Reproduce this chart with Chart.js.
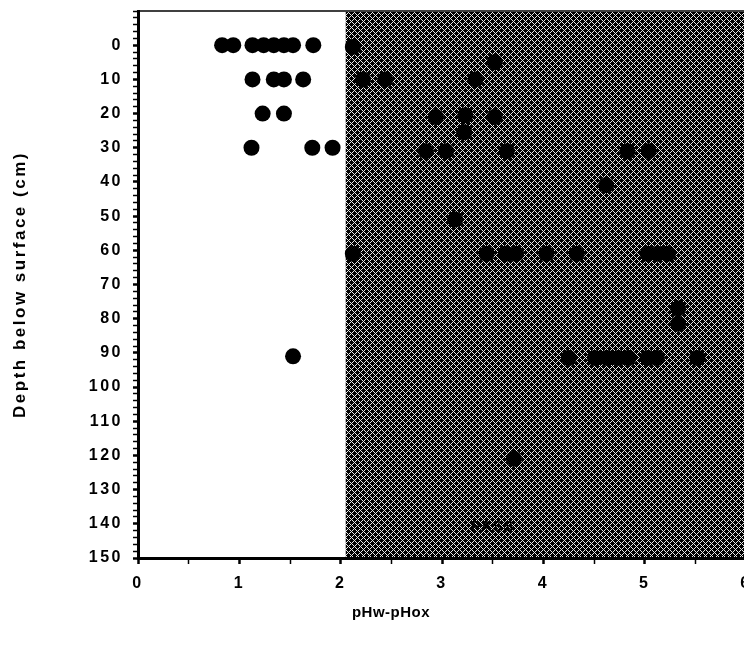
<!DOCTYPE html>
<html><head><meta charset="utf-8">
<script src="https://cdn.jsdelivr.net/npm/chart.js@4/dist/chart.umd.min.js"></script>
<style>
html,body{margin:0;padding:0;overflow:hidden;background:#fff}
#wrap{width:770px;height:655px;position:relative}
canvas{display:block}
</style></head><body>
<div id="wrap"><canvas id="c" width="770" height="655"></canvas></div>
<script>
// ---- data ----
const pHDiff = [
  0.83,0.94,1.13,1.24,1.34,1.44,1.53,1.73, 2.12,
  3.52,
  1.13,1.34,1.44,1.63, 2.22,2.44,3.33,
  1.23,1.44, 2.94,3.23,3.52, 3.22,
  1.12,1.72,1.92, 2.84,3.04,3.64,4.83,5.04,
  4.62,
  3.13,
  2.12,3.44,3.63,3.73,4.03,4.33,5.03,5.13,5.23,
  5.33,5.33,
  1.53, 4.25,4.51,4.63,4.74,4.84,5.03,5.12,5.52,
  3.71
];
const depthCm = [
  0,0,0,0,0,0,0,0, 0.5,
  5,
  10,10,10,10, 10,10,10,
  20,20, 21,20.5,21, 25.5,
  30,30,30, 31,31,31,31,31,
  41,
  51,
  61,61,61,61,61,61,61,61,61,
  77,81.5,
  91, 91.5,91.5,91.5,91.5,91.5,91.5,91.5,91.5,
  121
];
const xTickValues = [0,1,2,3,4,5,6];
const yTickValues = [0,10,20,30,40,50,60,70,80,90,100,110,120,130,140,150];
const xRange = [0,6];
const yRange = [-10,150];
const shadeFrom = 2.05;
const xTitle = 'pHw-pHox';
const yTitle = 'Depth below surface (cm)';
const regionLabel = 'PASS';
const regionLabelAt = [3.5, 141];

// ---- hatch pattern ----
function makePattern(ctx){
  const t = document.createElement('canvas');
  t.width = 6; t.height = 6;
  const c = t.getContext('2d');
  c.fillStyle = '#000'; c.fillRect(0,0,6,6);
  c.fillStyle = '#e8e8e8';
  for (let i=0;i<6;i++){ c.fillRect(i,i,1,1); c.fillRect(i,(6-i)%6,1,1); }
  return ctx.createPattern(t,'repeat');
}

const FAMILY = '"Liberation Sans", Arial, sans-serif';

const shadePlugin = {
  id:'shade',
  beforeDraw(chart){
    const ctx = chart.ctx;
    ctx.letterSpacing = '2.5px';
    const {top,bottom,right,left} = chart.chartArea;
    const xs = chart.scales.x;
    const x0 = xs.getPixelForValue(shadeFrom);
    ctx.save();
    ctx.fillStyle = makePattern(ctx);
    ctx.fillRect(x0, top+1, right - x0 + 30, bottom - top);
    ctx.strokeStyle = '#000';
    ctx.lineWidth = 1.5;
    ctx.beginPath(); ctx.moveTo(left, top); ctx.lineTo(right+30, top); ctx.stroke();
    ctx.fillStyle = '#000';
    ctx.font = 'bold 15px ' + FAMILY;
    ctx.letterSpacing = '1px';
    ctx.textAlign = 'center'; ctx.textBaseline = 'middle';
    ctx.fillText(regionLabel, xs.getPixelForValue(regionLabelAt[0]), chart.scales.y.getPixelForValue(regionLabelAt[1]));
    ctx.restore();
  },
  afterDraw(chart){
    const ctx = chart.ctx;
    ctx.save();
    ctx.fillStyle = '#000';
    ctx.letterSpacing = '0.5px';
    ctx.font = 'bold 15px ' + FAMILY;
    ctx.textAlign = 'center'; ctx.textBaseline = 'middle';
    ctx.fillText(xTitle, 391, 613);
    ctx.restore();
  }
};

const tickFont = {family:FAMILY, size:16, weight:'bold'};

new Chart(document.getElementById('c'), {
  type:'scatter',
  data:{ datasets:[{
    data: pHDiff.map((v,i)=>({x:v, y:depthCm[i]})),
    backgroundColor:'#000', borderColor:'#000', borderWidth:0,
    pointRadius:8, pointHoverRadius:8
  }]},
  options:{
    responsive:false, animation:false, devicePixelRatio:1,
    layout:{padding:{left:0, top:11, right:24, bottom:0}},
    plugins:{legend:{display:false}, tooltip:{enabled:false}},
    scales:{
      x:{
        type:'linear', position:'bottom', min:xRange[0], max:xRange[1],
        afterBuildTicks(s){
          const t=[]; for(let v=xRange[0]; v<=xRange[1]+1e-9; v+=0.5) t.push({value:v});
          s.ticks = t;
        },
        afterFit(s){ s.height = 97; s.paddingLeft = 0; s.paddingRight = 0; },
        border:{display:true, width:3, color:'#000'},
        grid:{drawOnChartArea:false, drawTicks:true, tickLength:6, color:'#000',
          tickColor:'#000',
          tickWidth:(c)=> (c.tick && xTickValues.includes(c.tick.value)) ? 2.5 : 1.5},
        ticks:{autoSkip:false, maxRotation:0, padding:10, color:'#000', font:tickFont,
          callback:(v)=> xTickValues.includes(v) ? String(v) : ''}
      },
      y:{
        type:'linear', position:'left', reverse:true, min:yRange[0], max:yRange[1],
        afterBuildTicks(s){
          const t=[]; for(let v=yRange[0]; v<=yRange[1]+1e-9; v+=2) t.push({value:v});
          s.ticks = t;
        },
        afterFit(s){ s.width = 138; s.paddingTop = 0; s.paddingBottom = 0; },
        border:{display:true, width:3, color:'#000'},
        grid:{drawOnChartArea:false, drawTicks:true, tickLength:5, color:'#000',
          tickColor:'#000',
          tickWidth:(c)=> (c.tick && yTickValues.includes(c.tick.value)) ? 2.5 : 1.5},
        ticks:{autoSkip:false, padding:10, color:'#000', font:tickFont,
          callback:(v)=> yTickValues.includes(v) ? String(v) : ''},
        title:{display:true, text:yTitle, color:'#000', padding:{top:10,bottom:0},
          font:{family:FAMILY, size:17, weight:'bold'}}
      }
    }
  },
  plugins:[shadePlugin]
});
</script>
</body></html>
